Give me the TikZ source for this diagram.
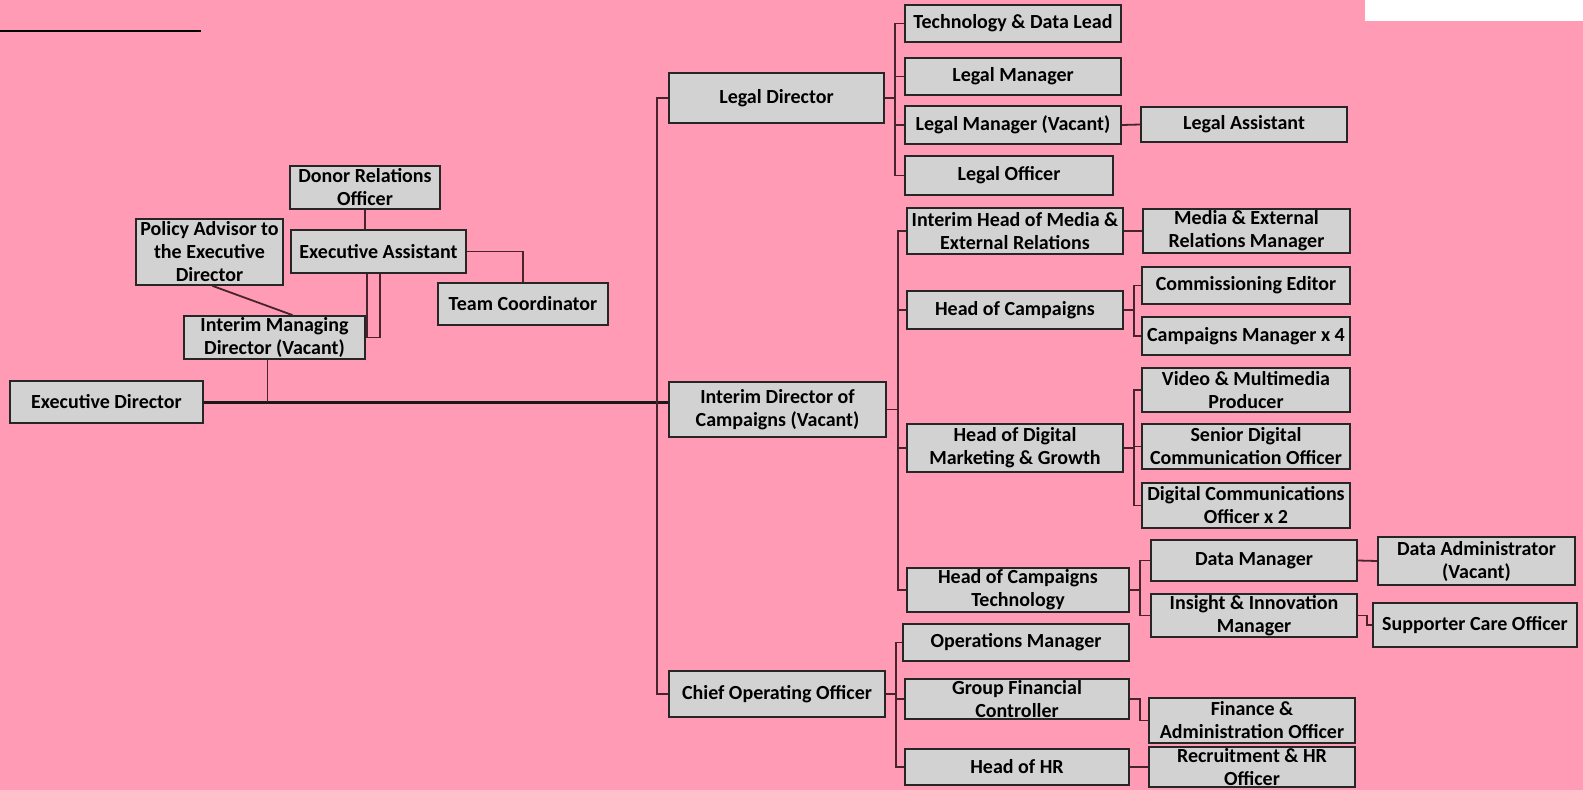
\documentclass[tikz,border=0pt]{standalone}
\usepackage{fontspec}
\setmainfont{Carlito}
\usepackage{tikz}
\definecolor{chartpink}{RGB}{255,155,180}
\definecolor{boxgray}{RGB}{210,210,210}
\definecolor{linedark}{RGB}{70,35,45}
\tikzset{
  orgbox/.style={draw=black!85, fill=boxgray, line width=1.8pt, inner sep=0pt, align=center,
    font=\fontsize{20}{23}\selectfont\bfseries},
  link/.style={draw=linedark, line width=1.8pt},
  mainlink/.style={draw=black!90, line width=3pt}
}
\newcommand{\placebox}[6]{%
  \node[orgbox, minimum width={(#4-#2)*1pt}, minimum height={(#5-#3)*1pt}] (#1) at ({(#2+#4)/2},{(#3+#5)/2}) {#6};}

\begin{document}
\begin{tikzpicture}[x=1pt,y=-1pt]
\fill[chartpink] (0,0) rectangle (1583,790);
\useasboundingbox (0,0) rectangle (1583,790);
\fill[white] (1365,0) rectangle (1583,21);
\draw[link,draw=black] (0,31) -- (201,31);

\placebox{ed}{10}{381}{203}{423}{Executive Director}
\placebox{dro}{290}{166}{440}{209}{Donor Relations\\Officer}
\placebox{pa}{136}{219}{283}{285}{Policy Advisor to\\the Executive\\Director}
\placebox{ea}{291}{230}{466}{273}{Executive Assistant}
\placebox{tc}{438}{283}{608}{325}{Team Coordinator}
\placebox{imd}{184}{316}{365}{359}{Interim Managing\\Director (Vacant)}

\placebox{ld}{669}{73}{884}{123}{Legal Director}
\placebox{idc}{669}{382}{886}{437}{Interim Director of\\Campaigns (Vacant)}
\placebox{coo}{669}{671}{885}{717}{Chief Operating Officer}

\placebox{tdl}{905}{5}{1121}{42}{Technology \& Data Lead}
\placebox{lm}{905}{58}{1121}{95}{Legal Manager}
\placebox{lmv}{905}{106}{1121}{144}{Legal Manager (Vacant)}
\placebox{lo}{905}{156}{1113}{195}{Legal Officer}
\placebox{la}{1141}{107}{1347}{142}{Legal Assistant}

\placebox{ihm}{907}{208}{1123}{254}{Interim Head of Media \&\\External Relations}
\placebox{merm}{1143}{209}{1350}{253}{Media \& External\\Relations Manager}
\placebox{hoc}{907}{291}{1123}{329}{Head of Campaigns}
\placebox{ce}{1142}{267}{1350}{304}{Commissioning Editor}
\placebox{cm}{1142}{317}{1350}{355}{Campaigns Manager x 4}
\placebox{hdm}{907}{424}{1123}{472}{Head of Digital\\Marketing \& Growth}
\placebox{vmp}{1142}{368}{1350}{412}{Video \& Multimedia\\Producer}
\placebox{sdco}{1142}{424}{1350}{469}{Senior Digital\\Communication Officer}
\placebox{dco}{1142}{483}{1350}{528}{Digital Communications\\Officer x 2}
\placebox{hct}{907}{568}{1129}{612}{Head of Campaigns\\Technology}
\placebox{dm}{1151}{540}{1357}{581}{Data Manager}
\placebox{iim}{1151}{594}{1357}{637}{Insight \& Innovation\\Manager}
\placebox{da}{1378}{537}{1575}{585}{Data Administrator\\(Vacant)}
\placebox{sco}{1373}{603}{1577}{647}{Supporter Care Officer}

\placebox{om}{903}{624}{1129}{661}{Operations Manager}
\placebox{gfc}{905}{679}{1129}{719}{Group Financial\\Controller}
\placebox{hr}{905}{749}{1129}{785}{Head of HR}
\placebox{fao}{1149}{698}{1355}{743}{Finance \&\\Administration Officer}
\placebox{rhr}{1149}{747}{1355}{787}{Recruitment \& HR\\Officer}

\draw[mainlink] (ed.east) -- (ed.east -| idc.west);
\draw[link] (ld.west) -- ++(-11,0) |- (coo.west);
\foreach \c in {tdl,lm,lmv,lo}
  \draw[link] (ld.east) -- ++(10,0) |- (\c.west);
\foreach \c in {ihm,hoc,hdm,hct}
  \draw[link] (idc.east) -- ++(11,0) |- (\c.west);
\foreach \c in {om,gfc,hr}
  \draw[link] (coo.east) -- ++(10,0) |- (\c.west);
\foreach \c in {ce,cm}
  \draw[link] (hoc.east) -- ++(10,0) |- (\c.west);
\foreach \c in {vmp,sdco,dco}
  \draw[link] (hdm.east) -- ++(10,0) |- (\c.west);
\foreach \c in {dm,iim}
  \draw[link] (hct.east) -- ++(10,0) |- (\c.west);
\draw[link] (lmv.east) -- (la.west);
\draw[link] (ihm.east) -- (merm.west);
\draw[link] (dm.east) -- (da.west);
\draw[link] (hr.east) -- (rhr.west);
\draw[link] (iim.east) -- ++(9,0) |- (sco.west);
\draw[link] (gfc.east) -- ++(10,0) |- (fao.west);

\draw[link] (dro.south) -- (dro.south |- ea.north);
\draw[link] (ea.east) -| (tc.north);
\draw[link] (imd.east) -- ++(14,0) coordinate (eaj) -- (eaj |- ea.south);
\draw[link] ([xshift=1pt]imd.east |- ea.south) -- ([xshift=1pt]imd.east);
\draw[link] ([xshift=3pt]pa.south) -- ([xshift=18pt]imd.north);
\draw[link] ([xshift=-7pt]imd.south) -- ([xshift=-7pt]imd.south |- ed.east);
\end{tikzpicture}
\end{document}
